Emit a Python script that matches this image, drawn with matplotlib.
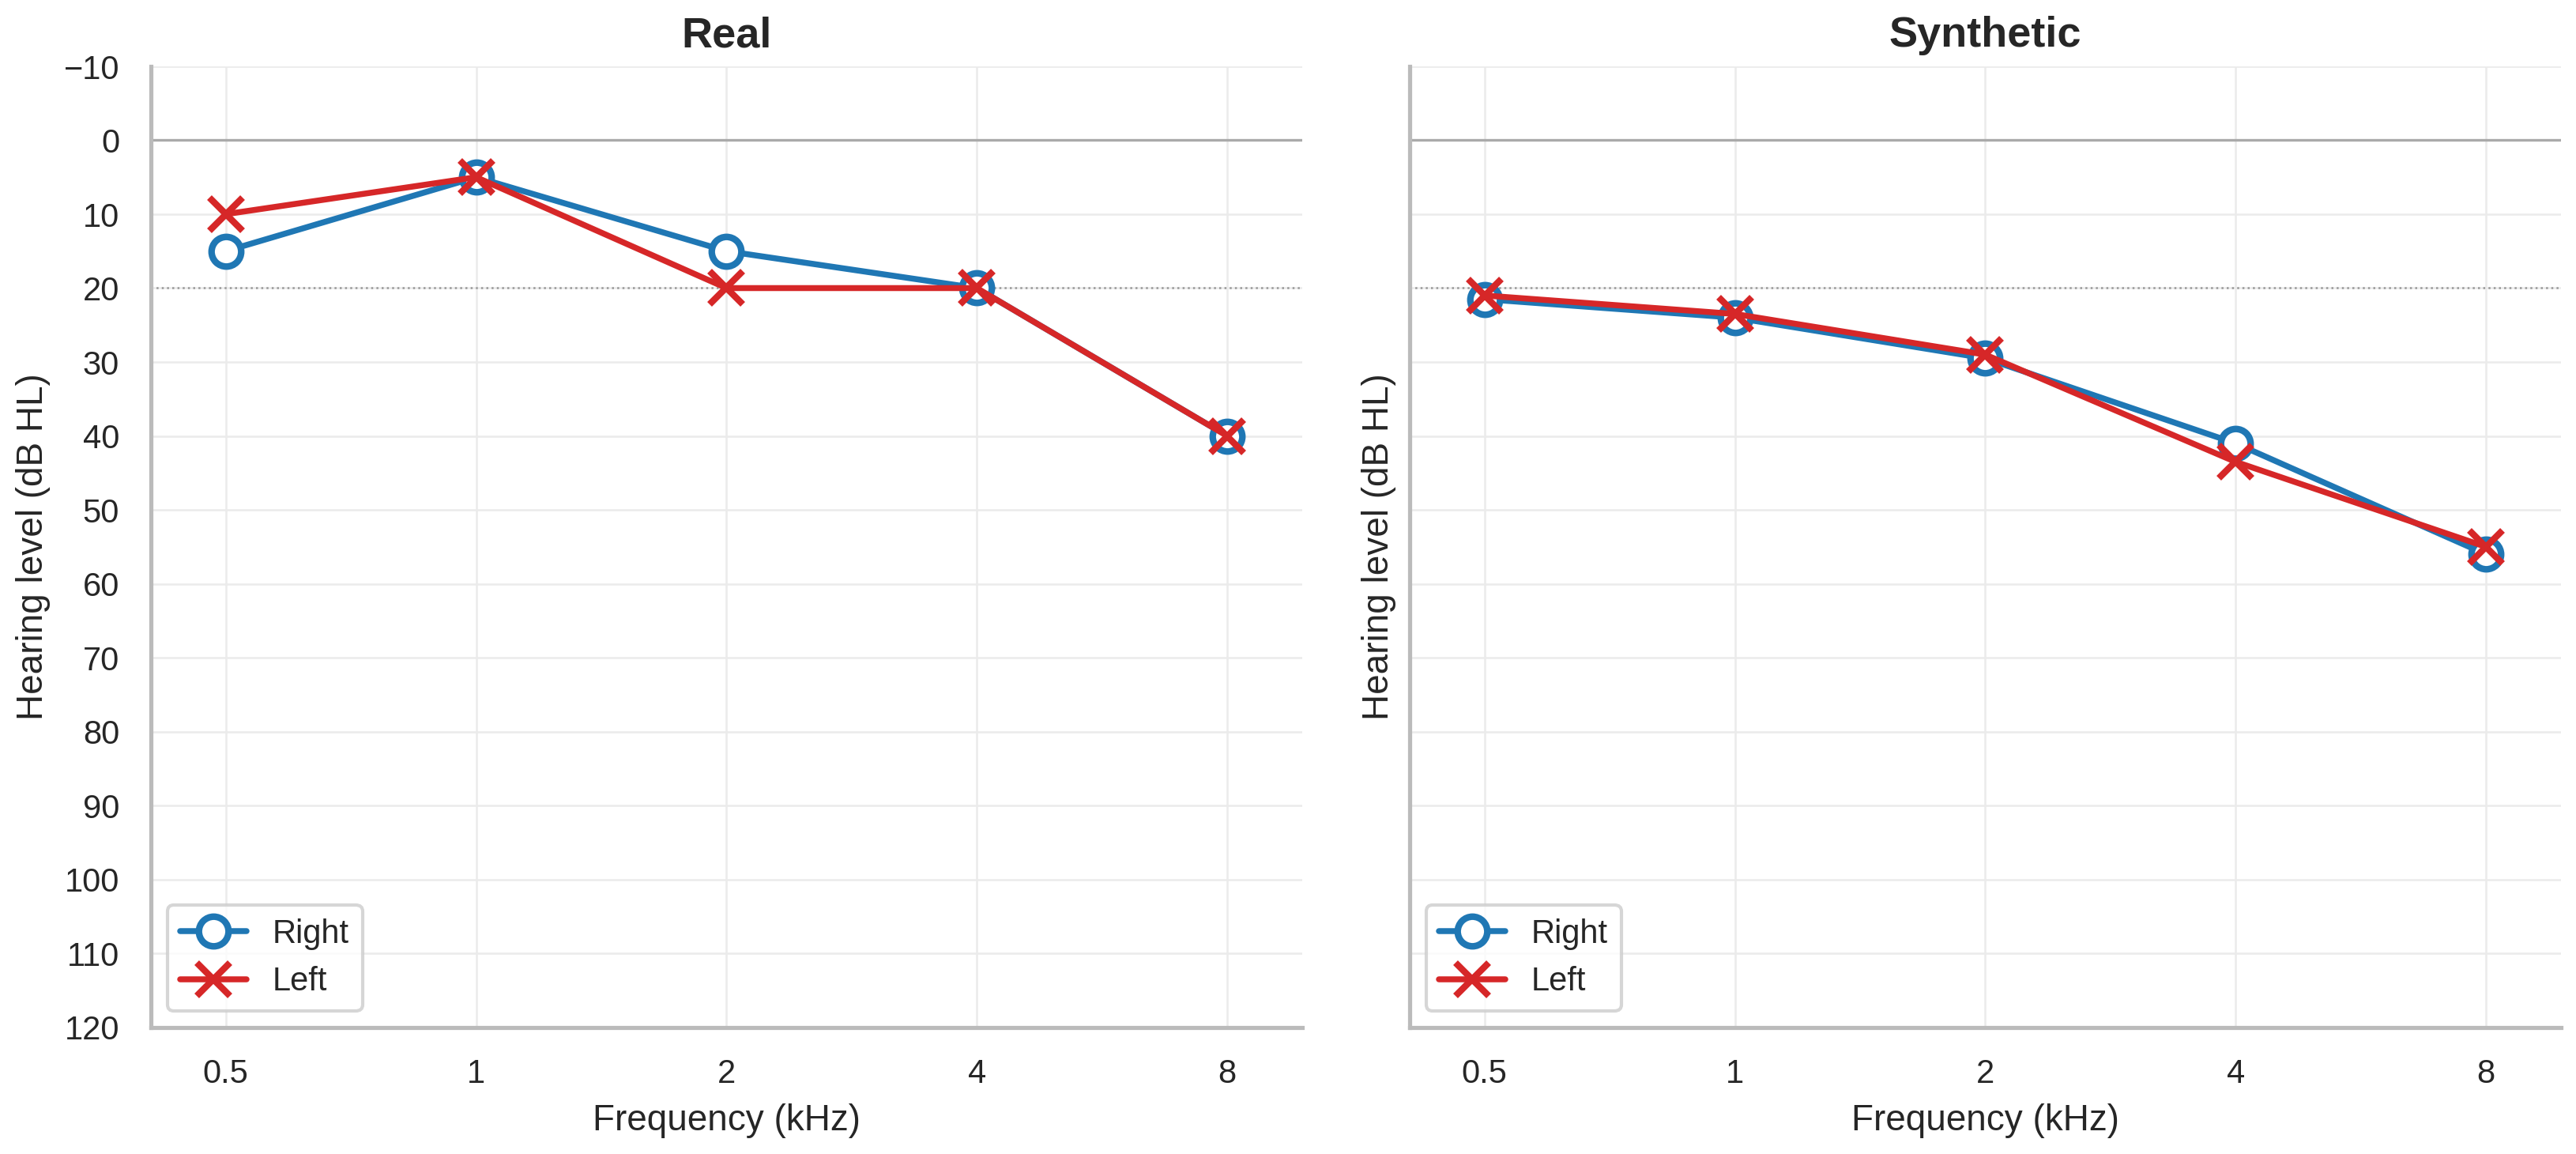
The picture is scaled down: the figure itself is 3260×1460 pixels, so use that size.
import matplotlib
matplotlib.use("Agg")
import matplotlib.pyplot as plt
import seaborn as sns

sns.set_theme(style="whitegrid")
plt.rcParams['font.family'] = ['Liberation Sans', 'DejaVu Sans']

freqs = ["0.5", "1", "2", "4", "8"]
real_right = [15, 5, 15, 20, 40]
real_left = [10, 5, 20, 20, 40]
syn_right = [21.5, 24, 29.5, 41, 56]
syn_left = [21, 23.5, 29, 43.5, 55]
yticks = list(range(-10, 121, 10))

fig, axes = plt.subplots(1, 2, figsize=(10.87, 4.867), dpi=300, sharey=True)
for ax, title, r, l in [(axes[0], "Real", real_right, real_left),
                        (axes[1], "Synthetic", syn_right, syn_left)]:
    x = range(len(freqs))
    ax.plot(x, r, color="#1f77b4", marker="o", markersize=9, markerfacecolor="white",
            markeredgewidth=2, linewidth=1.8, label="Right")
    ax.plot(x, l, color="#d62728", marker="x", markersize=10, markeredgewidth=2,
            linewidth=1.8, label="Left")
    ax.axhline(0, color="#aaaaaa", linewidth=0.8, zorder=1)
    ax.axhline(20, color="#999999", linewidth=0.6, linestyle=":", zorder=1)
    ax.set_xticks(list(x))
    ax.set_xticklabels(freqs)
    ax.set_xlim(-0.3, 4.3)
    ax.set_ylim(120, -10)
    ax.set_yticks(yticks)
    ax.grid(True, color="#ebebeb", linewidth=0.6)
    ax.set_title(title, fontsize=13, fontweight="bold")
    ax.set_xlabel("Frequency (kHz)", fontsize=11)
    ax.set_ylabel("Hearing level (dB HL)", fontsize=11)
    ax.tick_params(labelsize=10)
    for s in ["top", "right"]:
        ax.spines[s].set_visible(False)
    for s in ["left", "bottom"]:
        ax.spines[s].set_color("#bbbbbb")
    ax.legend(loc="lower left", fontsize=10, frameon=True)
axes[1].tick_params(labelleft=False)
fig.tight_layout(pad=0.4, w_pad=1.5)
fig.savefig("out.png", dpi=300)
